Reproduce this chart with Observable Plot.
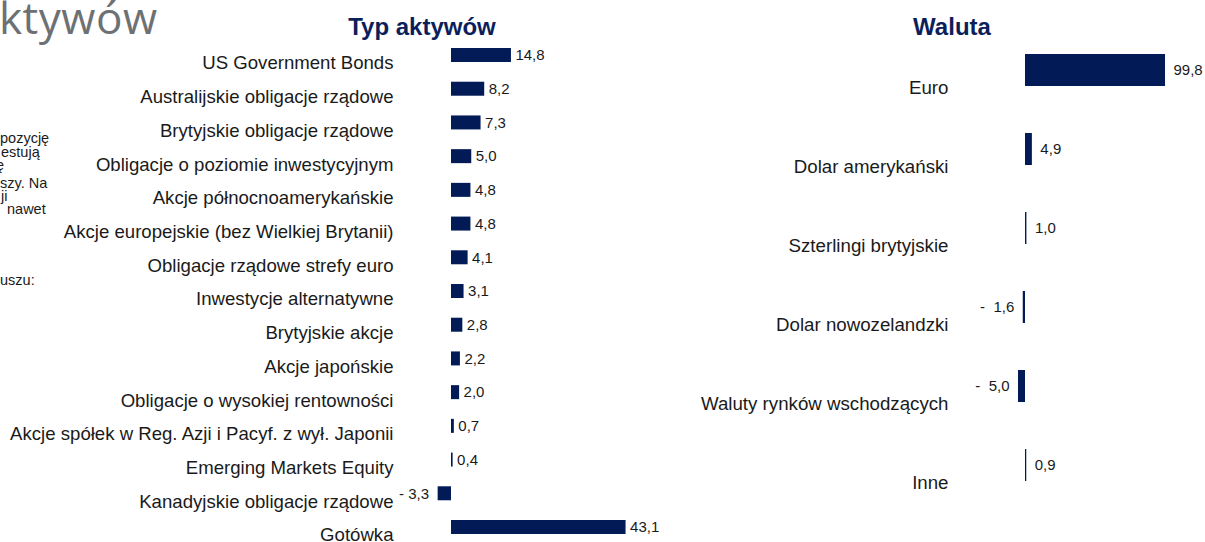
<!DOCTYPE html>
<html><head><meta charset="utf-8">
<script src="https://cdn.jsdelivr.net/npm/d3@7"></script>
<script src="https://cdn.jsdelivr.net/npm/@observablehq/plot@0.6"></script>
<style>
body{margin:0;background:#fff;}
#page{position:relative;width:1205px;height:542px;overflow:hidden;font-family:"Liberation Sans",Arial,sans-serif;}
#left,#right{position:absolute;top:0;}
#left{left:0;} #right{left:680px;}
.ttl{position:absolute;top:13px;font-weight:bold;font-size:24px;line-height:28px;color:#0d1f5b;white-space:nowrap;transform:translateX(-50%);}
#big{position:absolute;left:-1px;top:-5px;font-family:"Open Sans",sans-serif;font-size:44px;line-height:44px;letter-spacing:0.5px;color:#6e7174;white-space:nowrap;}
.frag{position:absolute;font-size:14.5px;line-height:13px;color:#1a1a1a;white-space:pre;}
svg text{white-space:pre;}
</style></head><body>
<div id="page">
  <div id="big">ktywów</div>
  <div class="frag" style="left:0;top:132px;">pozycję</div>
  <div class="frag" style="left:1px;top:146px;">estują</div>
  <div class="frag" style="left:-4px;top:159px;">ę</div>
  <div class="frag" style="left:0;top:177px;">szy. Na</div>
  <div class="frag" style="left:1px;top:190px;">ji</div>
  <div class="frag" style="left:7px;top:203px;">nawet</div>
  <div class="frag" style="left:0;top:274px;">uszu:</div>
  <div id="left"></div>
  <div id="right"></div>
  <div class="ttl" style="left:422px;">Typ aktywów</div>
  <div class="ttl" style="left:952px;">Waluta</div>
</div>
<script>
const assetCats = [
  "US Government Bonds",
  "Australijskie obligacje rządowe",
  "Brytyjskie obligacje rządowe",
  "Obligacje o poziomie inwestycyjnym",
  "Akcje północnoamerykańskie",
  "Akcje europejskie (bez Wielkiej Brytanii)",
  "Obligacje rządowe strefy euro",
  "Inwestycje alternatywne",
  "Brytyjskie akcje",
  "Akcje japońskie",
  "Obligacje o wysokiej rentowności",
  "Akcje spółek w Reg. Azji i Pacyf. z wył. Japonii",
  "Emerging Markets Equity",
  "Kanadyjskie obligacje rządowe",
  "Gotówka"
];
const assetVals = [14.8, 8.2, 7.3, 5.0, 4.8, 4.8, 4.1, 3.1, 2.8, 2.2, 2.0, 0.7, 0.4, -3.3, 43.1];

const currencyCats = [
  "Euro",
  "Dolar amerykański",
  "Szterlingi brytyjskie",
  "Dolar nowozelandzki",
  "Waluty rynków wschodzących",
  "Inne"
];
const currencyVals = [99.8, 4.9, 1.0, -1.6, -5.0, 0.9];

const NAVY = "#021b56";
const TXT = "#1a1a1a";
const num = v => Math.abs(v).toFixed(1).replace(".", ",");

const assetData = assetCats.map((c, i) => ({cat: c, value: assetVals[i]}));
const currencyData = currencyCats.map((c, i) => ({cat: c, value: currencyVals[i]}));

const font = {fontFamily: "'Liberation Sans', Arial, sans-serif", background: "transparent", overflow: "visible"};

const left = Plot.plot({
  width: 680, height: 542,
  marginLeft: 400, marginRight: 0, marginTop: 0, marginBottom: 0,
  style: font,
  x: {domain: [-3.5, 45], range: [451 - 3.5 * 4.05, 451 + 45 * 4.05], axis: null},
  y: {domain: assetCats, range: [38.15, 543.85], paddingInner: 0.585, paddingOuter: 0.2925, round: false, label: null},
  marks: [
    Plot.axisY({tickSize: 0, tickPadding: 7, dy: 8, fontSize: 18.6, fill: TXT, label: null}),
    Plot.barX(assetData, {x: "value", y: "cat", fill: NAVY}),
    Plot.text(assetData.filter(d => d.value >= 0), {x: "value", y: "cat", text: d => num(d.value), textAnchor: "start", dx: 4, fontSize: 15, fill: TXT}),
    Plot.text(assetData.filter(d => d.value < 0), {x: "value", y: "cat", text: d => "- " + num(d.value), textAnchor: "end", dx: -9, fontSize: 15, fill: TXT})
  ]
});
document.getElementById("left").appendChild(left);

const right = Plot.plot({
  width: 525, height: 542,
  marginLeft: 275, marginRight: 0, marginTop: 0, marginBottom: 0,
  style: font,
  x: {domain: [-6, 105], range: [345 - 6 * 1.403, 345 + 105 * 1.403], axis: null},
  y: {domain: currencyCats, range: [30.5, 504.5], paddingInner: 0.595, paddingOuter: 0.2975, round: false, label: null},
  marks: [
    Plot.axisY({tickSize: 0, tickPadding: 7, dy: 18, fontSize: 18.7, fill: TXT, label: null}),
    Plot.barX(currencyData, {x: "value", y: "cat", fill: NAVY}),
    Plot.text(currencyData.filter(d => d.value >= 0), {x: "value", y: "cat", text: d => num(d.value), textAnchor: "start", dx: 8, fontSize: 15, fill: TXT}),
    Plot.text(currencyData.filter(d => d.value < 0), {x: "value", y: "cat", text: d => "-  " + num(d.value), textAnchor: "end", dx: -9, fontSize: 15, fill: TXT})
  ]
});
document.getElementById("right").appendChild(right);
</script>
</body></html>
